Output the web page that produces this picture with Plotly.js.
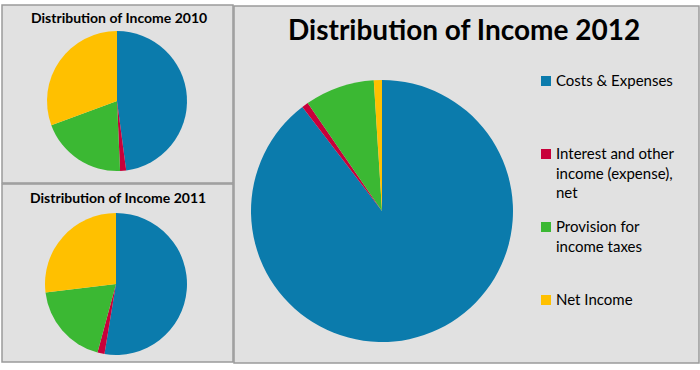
<!DOCTYPE html>
<html><head><meta charset="utf-8">
<script src="https://cdn.plot.ly/plotly-3.0.1.min.js"></script>
<style>html,body{margin:0;padding:0;background:#fff}</style>
</head><body><div id="chart" style="width:700px;height:370px"></div>
<script>
// ---- data ----
const categories = ['Costs & Expenses', 'Interest and other income (expense), net', 'Provision for income taxes', 'Net Income'];
const legendLabels = ['Costs & Expenses', 'Interest and other<br>income (expense),<br>net', 'Provision for<br>income taxes', 'Net Income'];
const values2010 = [47.9, 1.4, 20.1, 30.6];
const values2011 = [52.6, 1.6, 18.9, 26.9];
const values2012 = [89.6, 0.8, 8.6, 1.0];
const titles = ['Distribution of Income 2010', 'Distribution of Income 2011', 'Distribution of Income 2012'];
const colors = ['#0b7bac', '#c8003a', '#3bb833', '#ffc000'];

// ---- layout helpers (pixels -> paper) ----
const W = 700, H = 370;
const px = x => x / W;
const py = y => 1 - y / H;

function pie(values, x0, x1, yTop, yBot, name) {
  return {
    type: 'pie', name: name, values: values, labels: categories,
    marker: {colors: colors, line: {width: 0}},
    sort: false, direction: 'clockwise', rotation: 0,
    textinfo: 'none', hoverinfo: 'label+percent', showlegend: false,
    domain: {x: [px(x0), px(x1)], y: [py(yBot), py(yTop)]}
  };
}

const data = [
  pie(values2010, 47, 187, 31, 171, '2010'),
  pie(values2011, 45, 187, 213, 355, '2011'),
  pie(values2012, 251, 513, 80, 342, '2012')
];

const boxStyle = {fillcolor: '#e1e1e1', line: {color: '#9a9a9a', width: 1.5}, layer: 'below', xref: 'paper', yref: 'paper', type: 'rect'};
const shapes = [
  Object.assign({x0: px(2), x1: px(233), y0: py(183), y1: py(5)}, boxStyle),
  Object.assign({x0: px(2), x1: px(233), y0: py(362), y1: py(184)}, boxStyle),
  Object.assign({x0: px(234), x1: px(699), y0: py(363), y1: py(6)}, boxStyle)
];

const annotations = [
  {text: titles[0], x: px(119), y: py(18), font: {size: 14, weight: 700}},
  {text: titles[1], x: px(118), y: py(197), font: {size: 14, weight: 700}},
  {text: titles[2], x: px(464), y: py(29), font: {size: 28, weight: 700}}
].map(a => Object.assign({xref: 'paper', yref: 'paper', showarrow: false, xanchor: 'center', yanchor: 'middle', borderpad: 0}, a, {font: Object.assign({family: 'Lato', color: '#000'}, a.font)}));

// legend built from categories/colors
const legFont = 15, legTop0 = 81, legPitch = 73;
legendLabels.forEach((lab, i) => {
  const cy = legTop0 + i * legPitch;
  shapes.push({type: 'rect', xref: 'paper', yref: 'paper', x0: px(541), x1: px(551), y0: py(cy + 5), y1: py(cy - 5),
    fillcolor: colors[i], line: {width: 0}, layer: 'above'});
  annotations.push({text: lab, xref: 'paper', yref: 'paper', x: px(555), y: py(cy - legFont * 1.3 / 2 - 1),
    xanchor: 'left', yanchor: 'top', align: 'left', showarrow: false, borderpad: 0,
    font: {family: 'Lato', size: legFont, color: '#000'}});
});

const layout = {
  width: W, height: H, margin: {l: 0, r: 0, t: 0, b: 0},
  paper_bgcolor: '#ffffff', showlegend: false,
  shapes: shapes, annotations: annotations
};

Plotly.newPlot('chart', data, layout, {displayModeBar: false, staticPlot: true});
</script></body></html>
